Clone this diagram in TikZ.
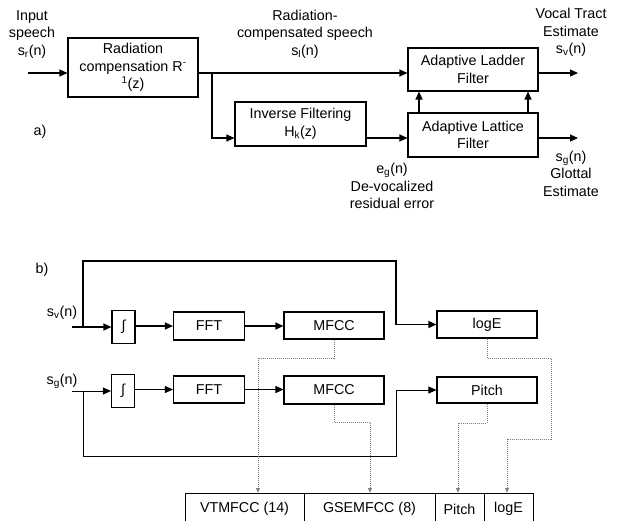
\documentclass[tikz,border=0pt]{standalone}
\usepackage{fontspec}
\setmainfont{Liberation Sans}
\usetikzlibrary{arrows.meta}
\newcommand\fs{\fontsize{14.3}{17.5}\selectfont}
\begin{document}
\begin{tikzpicture}[x=1pt,y=-1pt,
  box/.style={draw,line width=1.1pt,inner sep=0pt,align=center,font=\fs},
  lbl/.style={inner sep=0pt,align=center,font=\fs},
  arr/.style={-{Triangle[length=8pt,width=7pt]},line width=1.2pt},
  thinarr/.style={-{Triangle[length=8pt,width=7pt]},line width=0.8pt},
  dotarr/.style={-{Triangle[length=4.5pt,width=4pt]},line width=0.6pt,gray,dash pattern=on 1pt off 1pt},
  cell/.style={draw,line width=0.7pt,inner sep=0pt,align=center,font=\fs}]
\useasboundingbox (0,0) rectangle (620,520);
% ---------- part a ----------
\node[lbl] (inlbl) at (32,34.5) {Input\\speech\\s\textsubscript{r}(n)};
\node[box,minimum width=130pt,minimum height=59pt] (rad) at (133,67.5)
  {Radiation\\compensation R\textsuperscript{-}\\\textsuperscript{1}(z)};
\node[box,minimum width=131pt,minimum height=44pt] (inv) at (300.5,124)
  {Inverse Filtering\\H\textsubscript{k}(z)};
\node[box,minimum width=130pt,minimum height=43pt] (lad) at (473,69.5)
  {Adaptive Ladder\\Filter};
\node[box,minimum width=130pt,minimum height=44pt] (lat) at (473,135)
  {Adaptive Lattice\\Filter};
\node[lbl] (radlbl) at (305,34) {Radiation-\\compensated speech\\s\textsubscript{l}(n)};
\node[lbl] (vtlbl) at (571,32.5) {Vocal Tract\\Estimate\\s\textsubscript{v}(n)};
\node[lbl] (gllbl) at (571,173.5) {s\textsubscript{g}(n)\\Glottal\\Estimate};
\node[lbl] (eglbl) at (392,186) {e\textsubscript{g}(n)\\De-vocalized\\residual error};
\node[lbl] (alab) at (40,132) {a)};
\coordinate (in) at (28,73);
\coordinate (br) at (212,73);
\coordinate (b2) at (212,138);
\coordinate (o1) at (578,73);
\coordinate (o2) at (578,138);
\draw[arr] (in) -- (in -| rad.west);
\draw[arr] (rad.east |- br) -- (br) -- (br -| lad.west);
\draw[arr] (br) -- (b2) -- (b2 -| inv.west);
\draw[arr] (inv.east |- b2) -- (b2 -| lat.west);
\draw[arr] ([xshift=-54pt]lat.north) -- ([xshift=-54pt]lad.south);
\draw[arr] ([xshift=55pt]lat.north) -- ([xshift=55pt]lad.south);
\draw[arr] (lad.east |- o1) -- (o1);
\draw[arr] (lat.east |- o2) -- (o2);
% ---------- part b ----------
\node[lbl] (blab) at (42,270) {b)};
\node[lbl] (svlbl) at (62,313) {s\textsubscript{v}(n)};
\node[lbl] (sglbl) at (62,381) {s\textsubscript{g}(n)};
\node[box,minimum width=23pt,minimum height=33pt] (iv1) at (123.5,327) {∫};
\node[box,minimum width=71pt,minimum height=28pt] (fft1) at (209,326) {FFT};
\node[box,minimum width=100pt,minimum height=27pt] (mf1) at (334,325.5) {MFCC};
\node[box,minimum width=100pt,minimum height=27pt] (loge) at (487,324.5) {logE};
\node[box,minimum width=23pt,minimum height=33pt] (iv2) at (123,391) {∫};
\node[box,minimum width=71pt,minimum height=27pt] (fft2) at (209,389.5) {FFT};
\node[box,minimum width=100pt,minimum height=28pt] (mf2) at (334,390) {MFCC};
\node[box,minimum width=100pt,minimum height=26pt] (pitch) at (487,390) {Pitch};
% table
\node[cell,minimum width=119pt,minimum height=32pt] (vt) at (244.5,509) {VTMFCC (14)};
\node[cell,minimum width=131pt,minimum height=32pt] (gs) at (369.5,509) {GSEMFCC (8)};
\node[cell,minimum width=49pt,minimum height=32pt] (pc) at (459.5,509) {Pitch};
\node[cell,minimum width=49pt,minimum height=32pt] (lg) at (508.5,509) {logE};
% solid connectors
\coordinate (sv) at (72,327);
\coordinate (t1) at (83,327);
\coordinate (tl) at (83,261);
\coordinate (tr) at (396,261);
\draw[arr] (sv) -- (sv -| iv1.west);
\draw[arr] (t1) -- (tl) -- (tr) -- (tr |- loge.west) -- (loge.west);
\draw[arr] (iv1.east |- fft1.west) -- (fft1.west);
\draw[arr] (fft1.east) -- (fft1.east -| mf1.west);
\coordinate (sg) at (72,391);
\coordinate (g1) at (83,391);
\coordinate (gl) at (83,456);
\coordinate (gr) at (396,456);
\draw[thinarr] (sg) -- (sg -| iv2.west);
\draw[thinarr] (g1) -- (gl) -- (gr) -- (gr |- pitch.west) -- (pitch.west);
\draw[thinarr] (iv2.east |- fft2.west) -- (fft2.west);
\draw[thinarr] (fft2.east) -- (fft2.east -| mf2.west);
% dotted connectors
\coordinate (d1) at (258,358);
\coordinate (d2) at (370,422);
\coordinate (d3) at (458,423);
\coordinate (d4a) at (551,358);
\coordinate (d4b) at (551,439);
\coordinate (d4c) at (507,439);
\draw[dotarr] (mf1.south) |- (d1) -- (d1 |- vt.north);
\draw[dotarr] (mf2.south) |- (d2) -- (d2 |- gs.north);
\draw[dotarr] (pitch.south) |- (d3) -- (d3 |- pc.north);
\draw[dotarr] (loge.south) |- (d4a) -- (d4b) -- (d4c) -- (d4c |- lg.north);
\end{tikzpicture}
\end{document}
